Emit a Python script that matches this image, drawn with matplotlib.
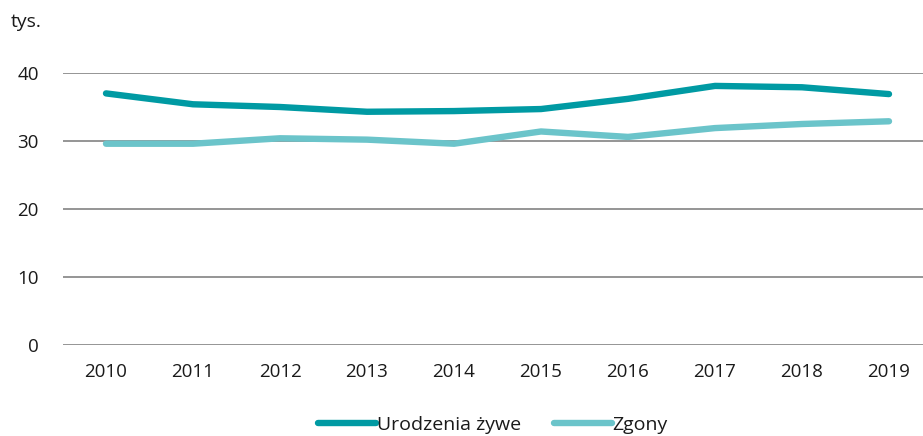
import numpy as np
import matplotlib.pyplot as plt

plt.rcParams["font.family"] = ["Open Sans", "DejaVu Sans"]

years = ["2010", "2011", "2012", "2013", "2014", "2015", "2016", "2017", "2018", "2019"]
births = [37.0, 35.4, 35.0, 34.3, 34.4, 34.7, 36.2, 38.1, 37.9, 36.9]
deaths = [29.6, 29.6, 30.4, 30.2, 29.6, 31.4, 30.6, 31.9, 32.5, 32.9]
yticks = [0, 10, 20, 30, 40]

dark = "#009aa3"
light = "#6bc4ca"
txt = "#1a1a1a"

fig = plt.figure(figsize=(9.23, 4.36), dpi=100)
W, H = 923, 436
ax = fig.add_axes([62.5 / W, 1 - 345 / H, (923 - 62.5) / W, (345 - 73) / H])

x = np.arange(len(years))
ax.plot(x, births, color=dark, lw=4.6, solid_capstyle="round", label="Urodzenia żywe")
ax.plot(x, deaths, color=light, lw=4.6, solid_capstyle="round", label="Zgony")

ax.set_xlim(-0.5, 9.5 - 9.5 / 87)
ax.set_ylim(0, 40)
ax.set_yticks(yticks)
ax.set_xticks(x)
ax.set_xticklabels(years)
ax.grid(axis="y", color="#8c8c8c", lw=1.3)
ax.set_axisbelow(True)
for s in ax.spines.values():
    s.set_visible(False)
ax.tick_params(axis="both", length=0, labelsize=13.5, colors=txt)
ax.tick_params(axis="y", pad=17)
ax.tick_params(axis="x", pad=13)

fig.text(11 / W, 1 - 22 / H, "tys.", fontsize=14, va="center", ha="left", color=txt)

leg = ax.legend(loc="center", bbox_to_anchor=(0.5, 1 - (425 - 73) / (345 - 73)),
                ncol=2, frameon=False, fontsize=14, handlelength=3.0,
                handletextpad=0.02, columnspacing=1.7, borderpad=0.1)
for t in leg.get_texts():
    t.set_color(txt)

fig.savefig("out.png", dpi=100)
